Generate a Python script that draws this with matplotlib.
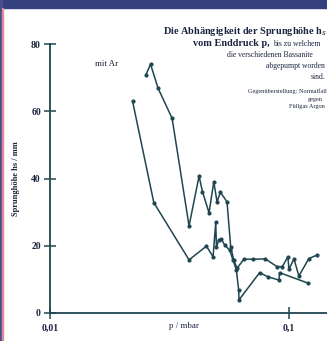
import matplotlib
matplotlib.use('Agg')
import matplotlib.pyplot as plt
from matplotlib.patches import Rectangle

# Normalfall (starts near 74 mm) and mit Ar (starts near 63 mm)
p_a = [0.02522, 0.02638, 0.02839, 0.03249, 0.03826, 0.04214, 0.04354, 0.04640,
       0.04856, 0.05012, 0.05179, 0.05518, 0.05718, 0.05886, 0.06076, 0.06501,
       0.07089, 0.07990, 0.08933, 0.09410, 0.09933, 0.1003, 0.1053, 0.1104,
       0.1216, 0.1313]
h_a = [70.8, 74.0, 66.8, 57.9, 25.9, 40.7, 36.1, 29.8,
       39.0, 33.1, 35.9, 33.1, 19.7, 15.8, 13.3, 16.0,
       16.0, 16.1, 13.8, 13.8, 16.7, 13.0, 16.1, 11.0,
       16.2, 17.2]

p_b = [0.02218, 0.02724, 0.03826, 0.04526, 0.04823, 0.04950, 0.04983, 0.05095,
       0.05229, 0.05398, 0.05662, 0.05845, 0.06040, 0.06176, 0.06194, 0.07561,
       0.08170, 0.09107, 0.09170, 0.1204]
h_b = [63.0, 32.8, 15.8, 19.9, 16.7, 27.0, 19.5, 21.7,
       21.9, 20.2, 18.7, 15.8, 12.8, 6.8, 3.9, 12.0,
       10.8, 9.8, 12.0, 8.9]

yticks = [0, 20, 40, 60, 80]
xticks = [0.01, 0.1]
xticklabels = ['0,01', '0,1']

W, H = 327, 341
line_col = '#1f4650'
text_col = '#1c2540'
serif = ['Liberation Serif', 'DejaVu Serif']

fig = plt.figure(figsize=(W / 100, H / 100), dpi=100)
fig.patch.set_facecolor('white')

# scanned frame: navy bar on top, thin edge on the left
fig.patches.append(Rectangle((0, 1 - 8 / H), 1, 8 / H, transform=fig.transFigure,
                             color='#34417e', zorder=0))
fig.patches.append(Rectangle((0, 0), 2 / W, 1, transform=fig.transFigure,
                             color='#4a4f8a', zorder=0))
fig.patches.append(Rectangle((2 / W, 0), 1 / W, 1 - 8 / H, transform=fig.transFigure,
                             color='#e08a9a', zorder=0))

ax = fig.add_axes([50 / W, 28 / H, 1 - 50 / W + 0.02, 269 / H])
ax.set_facecolor('none')

ax.plot(p_a, h_a, '-o', color=line_col, lw=1.1, ms=2, clip_on=False)
ax.plot(p_b, h_b, '-o', color=line_col, lw=1.1, ms=2, clip_on=False)

ax.set_xscale('log')
ax.set_xlim(0.01, 0.01 * 10 ** ((W + 7 - 50) / 239))
ax.set_ylim(0, 80)
ax.set_xticks(xticks)
ax.set_xticklabels(xticklabels)
ax.xaxis.set_minor_locator(matplotlib.ticker.NullLocator())
ax.set_yticks(yticks)

for s in ['top', 'right']:
    ax.spines[s].set_visible(False)
for s in ['left', 'bottom']:
    ax.spines[s].set_color(line_col)
    ax.spines[s].set_linewidth(1.3)

ax.tick_params(direction='inout', length=9, width=1.1, color=line_col,
               labelcolor=text_col, labelsize=7, pad=1)
for lab in ax.get_xticklabels() + ax.get_yticklabels():
    lab.set_fontfamily(serif)
    lab.set_fontweight('bold')
ax.tick_params(axis='y', pad=2)
ax.tick_params(axis='x', pad=3)

ax.set_ylabel('Sprunghöhe hs / mm', fontsize=6, family=serif, fontweight='bold',
              color=text_col, labelpad=8)

def ftext(x, y, s, **kw):
    fig.text(x / W, 1 - y / H, s, family=serif, color=text_col, va='center', **kw)

ftext(184, 326, 'p / mbar', fontsize=6.5, ha='center')
ftext(95, 64, 'mit Ar', fontsize=6.5)
ftext(163, 32, 'Die Abhängigkeit der Sprunghöhe h$_s$', fontsize=7.4, fontweight='bold')
ftext(193, 44, 'vom Enddruck p,', fontsize=7.4, fontweight='bold')
ftext(273, 44, 'bis zu welchem', fontsize=5.5)
ftext(227, 55, 'die verschiedenen Bassanite', fontsize=5.5)
ftext(325, 66, 'abgepumpt worden', fontsize=5.5, ha='right')
ftext(325, 77, 'sind.', fontsize=5.5, ha='right')
ftext(327, 91, 'Gegenüberstellung: Normalfall', fontsize=4.5, ha='right')
ftext(323, 99, 'gegen', fontsize=4.5, ha='right')
ftext(325, 107, 'Füllgas Argon', fontsize=4.5, ha='right')

fig.savefig('out.png', dpi=100)
